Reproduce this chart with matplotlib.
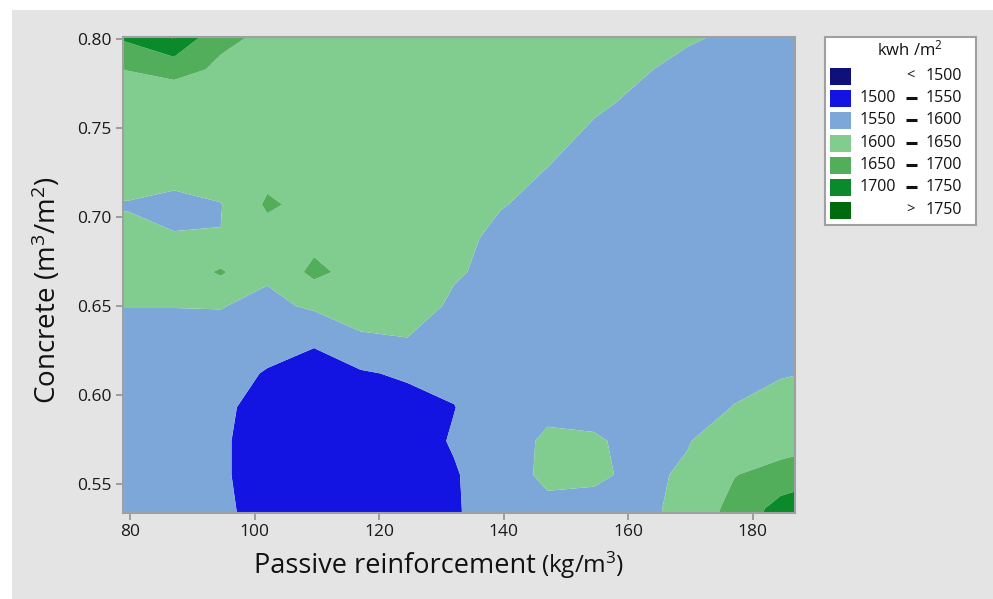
import matplotlib
matplotlib.use("Agg")
import matplotlib.pyplot as plt
from matplotlib.patches import Rectangle
import numpy as np

plt.rcParams['font.family'] = ['Open Sans', 'DejaVu Sans']
plt.rcParams['mathtext.fontset'] = 'custom'
plt.rcParams['mathtext.rm'] = 'Open Sans'
plt.rcParams['mathtext.it'] = 'Open Sans'

# Grid of passive reinforcement (kg/m3) and concrete (m3/m2)
reinforcement = [72, 79.5, 87, 94.5, 102, 109.5, 117, 124.5, 132, 139.5,
                 147, 154.5, 162, 169.5, 177, 184.5, 192]
concrete = [0.517, 0.536, 0.555, 0.574, 0.593, 0.612, 0.631, 0.650,
            0.669, 0.688, 0.707, 0.726, 0.745, 0.764, 0.783, 0.802]

# Energy (kwh/m2), one row per concrete value
energy = [
    [1578, 1575, 1568, 1558, 1542, 1525, 1525, 1535, 1545, 1572, 1580, 1580, 1585, 1620, 1680, 1730, 1748],
    [1578, 1575, 1568, 1556, 1538, 1522, 1522, 1532, 1545, 1575, 1589, 1589, 1588, 1614, 1665, 1718, 1738],
    [1578, 1575, 1568, 1556, 1530, 1520, 1520, 1530, 1546, 1577, 1610, 1606, 1592, 1605, 1648, 1670, 1690],
    [1578, 1575, 1568, 1556, 1530, 1520, 1520, 1530, 1554, 1577, 1608, 1604, 1590, 1598, 1620, 1625, 1640],
    [1578, 1575, 1570, 1558, 1535, 1524, 1525, 1532, 1549, 1575, 1589, 1589, 1585, 1585, 1601, 1615, 1625],
    [1580, 1578, 1575, 1565, 1547, 1535, 1545, 1557, 1560, 1575, 1580, 1578, 1580, 1582, 1590, 1597, 1603],
    [1585, 1585, 1585, 1583, 1566, 1555, 1592, 1598, 1575, 1575, 1575, 1575, 1577, 1578, 1582, 1588, 1592],
    [1601, 1601, 1601, 1602, 1588, 1608, 1625, 1630, 1590, 1578, 1575, 1575, 1575, 1575, 1575, 1575, 1575],
    [1615, 1618, 1620, 1656, 1608, 1662, 1630, 1635, 1606, 1585, 1578, 1575, 1575, 1575, 1575, 1575, 1575],
    [1608, 1612, 1604, 1601, 1630, 1635, 1632, 1628, 1612, 1590, 1582, 1578, 1575, 1575, 1575, 1575, 1575],
    [1597, 1597, 1585, 1598, 1657, 1635, 1635, 1632, 1625, 1602, 1590, 1582, 1578, 1576, 1575, 1575, 1575],
    [1615, 1625, 1621, 1628, 1635, 1635, 1632, 1630, 1625, 1612, 1599, 1588, 1582, 1580, 1578, 1578, 1578],
    [1615, 1620, 1618, 1625, 1630, 1632, 1630, 1628, 1625, 1620, 1610, 1594, 1588, 1585, 1582, 1580, 1580],
    [1620, 1625, 1617, 1625, 1630, 1632, 1632, 1630, 1628, 1625, 1615, 1605, 1594, 1585, 1580, 1578, 1578],
    [1640, 1651, 1665, 1643, 1638, 1635, 1632, 1630, 1628, 1630, 1620, 1612, 1603, 1592, 1585, 1580, 1580],
    [1690, 1712, 1760, 1659, 1644, 1640, 1636, 1632, 1628, 1625, 1620, 1615, 1608, 1604, 1596, 1588, 1585],
]

levels = [1400, 1500, 1550, 1600, 1650, 1700, 1750, 1850]
band_colors = ['#10107a', '#1414e2', '#7da7d9', '#81cd90', '#52ae5a', '#0a8a2a', '#006a0c']
legend_labels = [('', '<', '1500'), ('1500', '-', '1550'), ('1550', '-', '1600'),
                 ('1600', '-', '1650'), ('1650', '-', '1700'), ('1700', '-', '1750'),
                 ('', '>', '1750')]

W, H = 993, 599
fig = plt.figure(figsize=(W / 100, H / 100), dpi=100)
fig.patch.set_facecolor('white')
fig.patches.append(Rectangle((12 / W, 0), 1 - 12 / W, (H - 10) / H,
                             transform=fig.transFigure, facecolor='#e4e4e4',
                             edgecolor='none', zorder=-10))

ax = fig.add_axes([123 / W, (H - 513) / H, (795 - 123) / W, (513 - 37) / H])
ax.contourf(reinforcement, concrete, np.array(energy), levels=levels,
            colors=band_colors, antialiased=True)
ax.set_xlim(78.8, 186.8)
ax.set_ylim(0.5335, 0.8012)
ax.set_xticks([80, 100, 120, 140, 160, 180])
ax.set_yticks([0.55, 0.60, 0.65, 0.70, 0.75, 0.80])
ax.set_yticklabels([f'{v:.2f}' for v in [0.55, 0.60, 0.65, 0.70, 0.75, 0.80]])
for s in ax.spines.values():
    s.set_color('#a0a0a0')
    s.set_linewidth(1.5)
ax.tick_params(axis='both', direction='out', length=5, width=1.2, color='#909090',
               labelsize=12.5, labelcolor='#1a1a1a', pad=3)

fig.text(47 / W, (H - 290) / H, 'Concrete (m$\\mathregular{^3}$/m$\\mathregular{^2}$)',
         rotation=90, ha='center', va='center', fontsize=20, color='#111111')
fig.text(536 / W, (H - 573) / H, 'Passive reinforcement', ha='right', va='baseline',
         fontsize=19.5, color='#111111')
fig.text(541 / W, (H - 573) / H, '(kg/m$\\mathregular{^3}$)', ha='left', va='baseline',
         fontsize=17.5, color='#111111')

# Legend box drawn in its own pixel-coordinate axes
lg = fig.add_axes([825 / W, (H - 225) / H, 151 / W, 188 / H])
lg.set_xlim(0, 151)
lg.set_ylim(188, 0)
lg.set_xticks([])
lg.set_yticks([])
lg.set_facecolor('white')
for s in lg.spines.values():
    s.set_color('#a0a0a0')
    s.set_linewidth(1.5)
lg.text(85, 12, 'kwh /m$\\mathregular{^2}$', ha='center', va='center', fontsize=12,
        color='#111111')
row_y = [39, 61, 83, 106, 128, 150, 173]
for yc, col, (lo, sym, hi) in zip(row_y, band_colors, legend_labels):
    lg.add_patch(Rectangle((5, yc - 8.5), 21, 17, facecolor=col, edgecolor='none'))
    if lo:
        lg.text(71, yc, lo, ha='right', va='center', fontsize=11.5, color='#111111')
    if sym == '-':
        lg.plot([81, 92], [yc, yc], color='#111111', lw=2.2, solid_capstyle='butt')
    else:
        lg.text(85, yc, sym, ha='center', va='center', fontsize=10.5, color='#111111')
    lg.text(137, yc, hi, ha='right', va='center', fontsize=11.5, color='#111111')

fig.savefig('out.png', dpi=100, facecolor=fig.get_facecolor())
